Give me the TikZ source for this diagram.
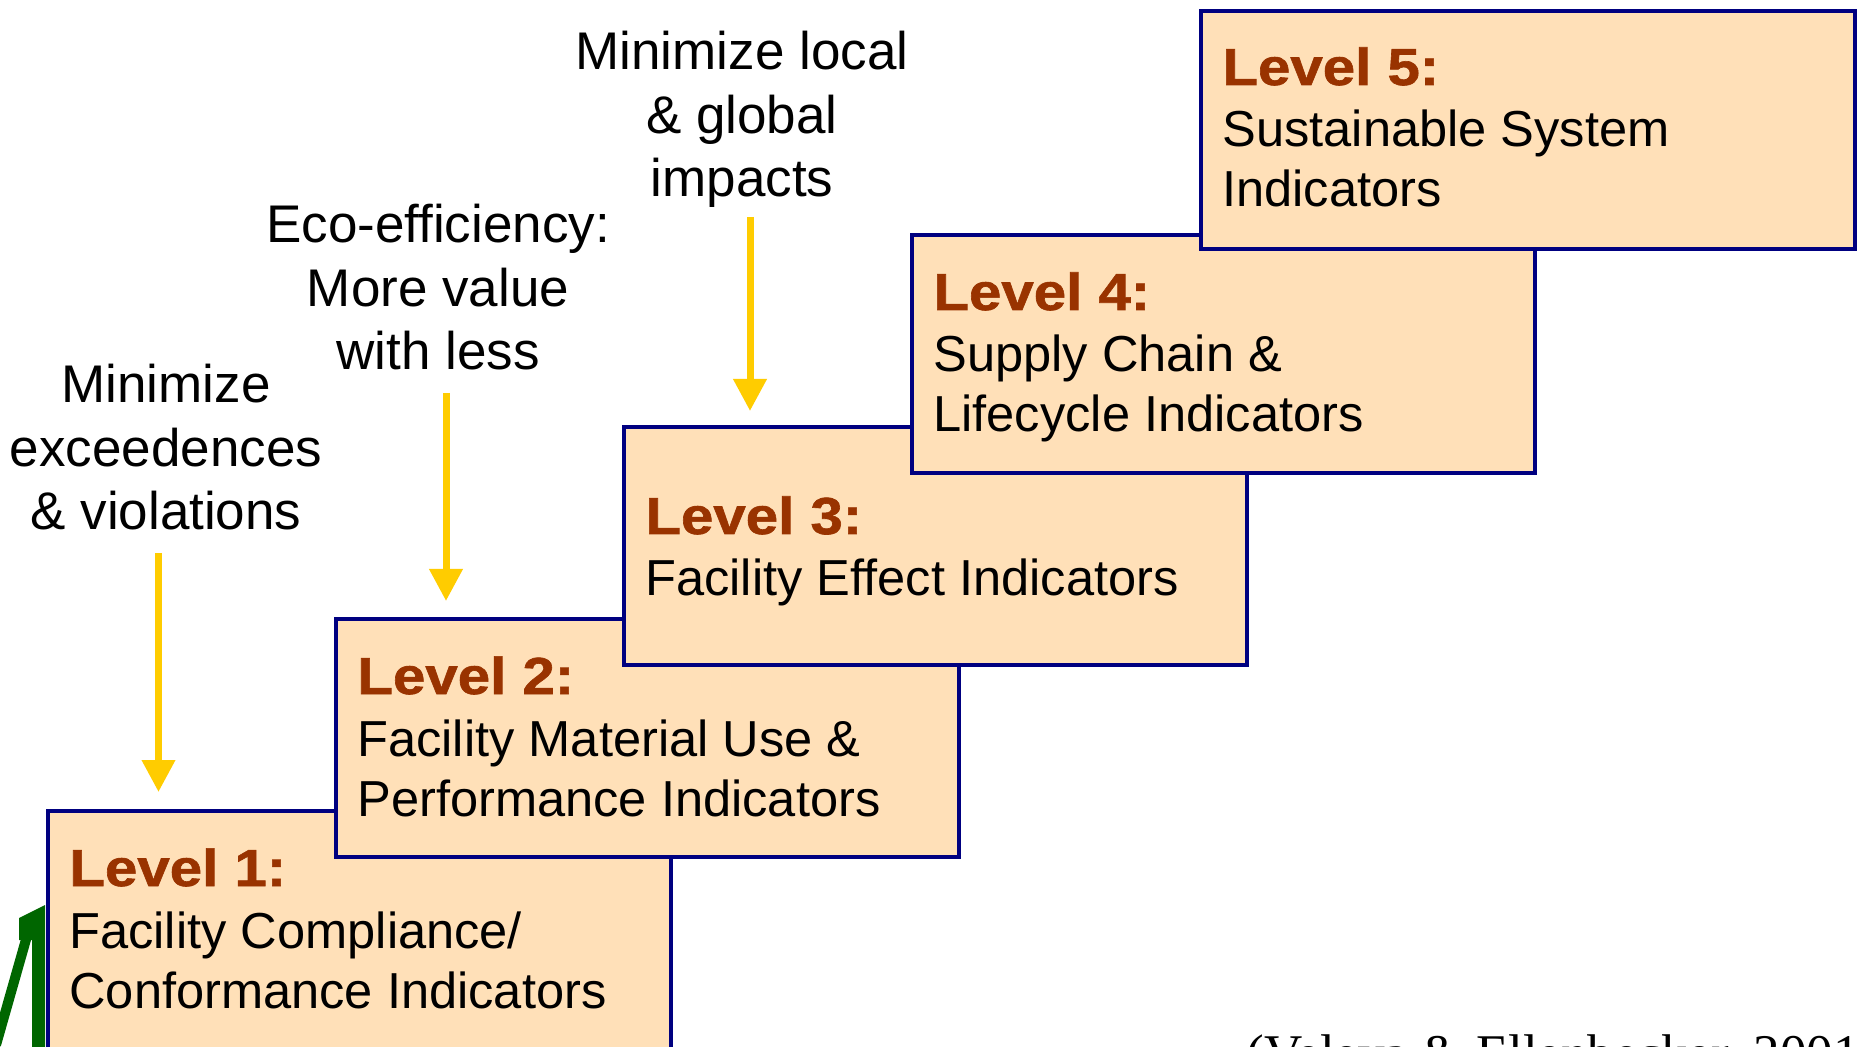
\documentclass[tikz,border=0pt]{standalone}
\usepackage{fontspec}
\setmainfont{Liberation Sans}
\newfontfamily\levelfont{Liberation Sans}[FakeStretch=1.12, BoldFeatures={FakeBold=1.2}]
\newfontfamily\citefont{Liberation Serif}
\usetikzlibrary{arrows.meta}

\definecolor{peach}{HTML}{FFE0B8}
\definecolor{navyline}{HTML}{000080}
\definecolor{levelred}{HTML}{993300}
\definecolor{cuegold}{HTML}{FFCC00}
\definecolor{leafgreen}{HTML}{006600}

\newcommand{\lvl}[1]{{\levelfont\bfseries\fontsize{26}{30}\selectfont\color{levelred}#1}}

\begin{document}
\begin{tikzpicture}[x=0.5pt,y=-0.5pt,
  stair/.style={draw=navyline, line width=2pt, fill=peach, rectangle,
    inner sep=0pt, anchor=north west, minimum width=311.5pt, minimum height=119pt},
  % multi-line nodes: the base anchor sits on the last line
  stairtext/.style={anchor=base west, inner sep=0pt, align=left,
    font=\fontsize{25.3}{30}\selectfont},
  note/.style={anchor=base, inner sep=0pt, align=center,
    font=\fontsize{26.5}{31.75}\selectfont},
  cue/.style={draw=cuegold, line width=3.5pt,
    -{Triangle[width=16pt,length=16pt]}}]

\useasboundingbox (0,0) rectangle (1858,1047);
\clip (0,0) rectangle (1858,1047);
\fill[white] (0,0) rectangle (1858,1047);

% green arrow entering from the lower left
\fill[leafgreen] (19,918) -- (45,905) -- (45,1060) -- (32,1060) -- (32,940) -- (19,940) -- cycle;
\draw[leafgreen, line width=5pt] (27,936) -- (-4,1045);

% the five steps, each drawn over the one below
\node[stair] (b1) at (46,809) {};
\node[stairtext] (t1) at ([shift={(23,199)}]b1.north west)
  {\lvl{Level 1:}\\[1pt]Facility Compliance/\\Conformance Indicators};

\node[stair] (b2) at (334,617) {};
\node[stairtext] (t2) at ([shift={(23,199)}]b2.north west)
  {\lvl{Level 2:}\\[1pt]Facility Material Use \&\\Performance Indicators};

\node[stair] (b3) at (622,425) {};
\node[stairtext] (t3) at ([shift={(23,171)}]b3.north west)
  {\lvl{Level 3:}\\[1pt]Facility Effect Indicators};

\node[stair] (b4) at (910,233) {};
\node[stairtext] (t4) at ([shift={(23,199)}]b4.north west)
  {\lvl{Level 4:}\\[1pt]Supply Chain \&\\Lifecycle Indicators};

\node[stair, minimum width=327pt, minimum height=119pt] (b5) at (1199,9) {};
\node[stairtext] (t5) at ([shift={(23,198)}]b5.north west)
  {\lvl{Level 5:}\\[1pt]Sustainable System\\Indicators};

% goals above the steps
\node[note] (n1) at (166,530) {Minimize\\exceedences\\\& violations};
\node[note] (n2) at (438,370) {Eco-efficiency:\\More value\\with less};
\node[note] (n3) at (742,197) {Minimize local\\\& global\\impacts};

\coordinate (a1s) at (158.5,553);
\coordinate (a1e) at (158.5,792);
\coordinate (a2s) at (446,393);
\coordinate (a2e) at (446,601);
\coordinate (a3s) at (750,217);
\coordinate (a3e) at (750,411);
\draw[cue] (a1s) -- (a1e);
\draw[cue] (a2s) -- (a2e);
\draw[cue] (a3s) -- (a3e);

% source
\node[anchor=base west, inner sep=0pt, font=\citefont\fontsize{26.5}{30}\selectfont]
  (cite) at (1246,1071) {(Veleva \& Ellenbecker, 2001)};
\end{tikzpicture}
\end{document}
